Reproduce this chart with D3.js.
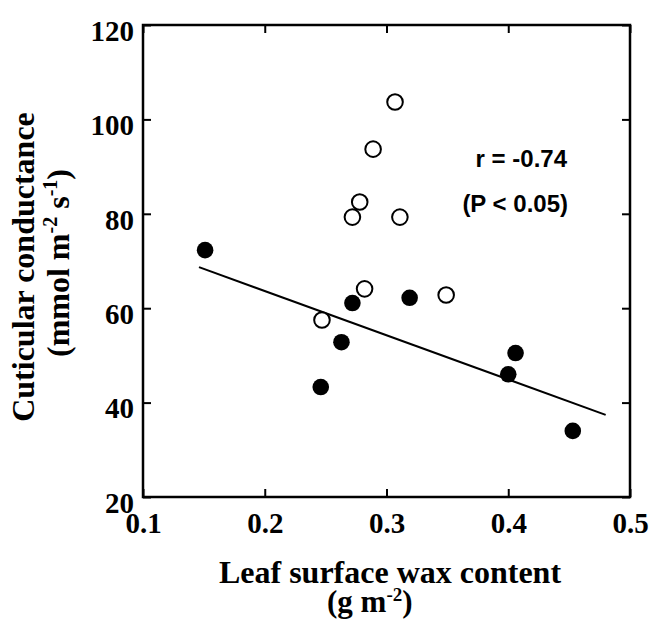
<!DOCTYPE html>
<html>
<head>
<meta charset="utf-8">
<script src="https://cdn.jsdelivr.net/npm/d3@7"></script>
<style>
  body { margin: 0; background: #fff; }
  svg { display: block; }
  .serif { font-family: "Liberation Serif", "Times New Roman", serif; font-weight: bold; }
  .sans { font-family: "Liberation Sans", Arial, sans-serif; font-weight: bold; }
</style>
</head>
<body>
<div id="chart"></div>
<script>
// closed circles
var closedX = [0.151, 0.246, 0.263, 0.272, 0.319, 0.406, 0.400, 0.453];
var closedY = [72.3, 43.3, 52.8, 61.1, 62.2, 50.5, 46.0, 34.0];
// open circles
var openX = [0.307, 0.289, 0.278, 0.272, 0.311, 0.282, 0.349, 0.247];
var openY = [103.7, 93.7, 82.5, 79.3, 79.3, 64.1, 62.8, 57.5];
// regression line ends
var lineX = [0.146, 0.48];
var lineY = [68.7, 37.4];
var xTicks = [0.1, 0.2, 0.3, 0.4, 0.5];
var yTicks = [20, 40, 60, 80, 100, 120];

var width = 651, height = 619;
var plotL = 143, plotR = 630, plotT = 25, plotB = 497;

var svg = d3.select("#chart").append("svg")
  .attr("width", width)
  .attr("height", height);

var x = d3.scaleLinear().domain([0.1, 0.5]).range([plotL, plotR]);
var y = d3.scaleLinear().domain([20, 120]).range([plotB, plotT]);

// axes, ticks pointing inward
var xAxis = svg.append("g")
  .attr("transform", "translate(0," + plotB + ")")
  .call(d3.axisBottom(x).tickValues(xTicks).tickFormat(d3.format(".1f"))
    .tickSizeInner(-8).tickSizeOuter(0));
xAxis.selectAll("text")
  .attr("class", "serif")
  .attr("y", 36).attr("dy", 0)
  .style("font-size", "29px");

var yAxis = svg.append("g")
  .attr("transform", "translate(" + plotL + ",0)")
  .call(d3.axisLeft(y).tickValues(yTicks).tickSizeInner(-8).tickSizeOuter(0));
yAxis.selectAll("text")
  .attr("class", "serif")
  .attr("x", -9).attr("dy", "0.53em")
  .style("font-size", "29px");

svg.append("g")
  .attr("transform", "translate(0," + plotT + ")")
  .call(d3.axisTop(x).tickValues(xTicks).tickFormat("").tickSizeInner(-8).tickSizeOuter(0));

svg.append("g")
  .attr("transform", "translate(" + plotR + ",0)")
  .call(d3.axisRight(y).tickValues(yTicks).tickFormat("").tickSizeInner(-8).tickSizeOuter(0));

svg.selectAll(".domain").remove();
svg.selectAll(".tick line").attr("stroke", "#000").attr("stroke-width", 2);
svg.selectAll(".tick text").attr("fill", "#000");

// frame
svg.append("rect")
  .attr("x", plotL).attr("y", plotT)
  .attr("width", plotR - plotL).attr("height", plotB - plotT)
  .attr("fill", "none").attr("stroke", "#000").attr("stroke-width", 2.5);

// regression line
svg.append("line")
  .attr("x1", x(lineX[0])).attr("y1", y(lineY[0]))
  .attr("x2", x(lineX[1])).attr("y2", y(lineY[1]))
  .attr("stroke", "#000").attr("stroke-width", 2);

// points
var closedPts = closedX.map(function (d, i) { return [d, closedY[i]]; });
var openPts = openX.map(function (d, i) { return [d, openY[i]]; });

svg.append("g").selectAll("circle")
  .data(closedPts).enter().append("circle")
  .attr("cx", function (d) { return x(d[0]); })
  .attr("cy", function (d) { return y(d[1]); })
  .attr("r", 8.3)
  .attr("fill", "#000");

svg.append("g").selectAll("circle")
  .data(openPts).enter().append("circle")
  .attr("cx", function (d) { return x(d[0]); })
  .attr("cy", function (d) { return y(d[1]); })
  .attr("r", 7.8)
  .attr("fill", "#fff")
  .attr("stroke", "#000").attr("stroke-width", 2);

// stats text
svg.append("text").attr("class", "sans")
  .attr("x", 567).attr("y", 167)
  .attr("text-anchor", "end")
  .style("font-size", "24px")
  .text("r = -0.74");
svg.append("text").attr("class", "sans")
  .attr("x", 568).attr("y", 212)
  .attr("text-anchor", "end")
  .style("font-size", "24px")
  .text("(P < 0.05)");

// x title
svg.append("text").attr("class", "serif")
  .attr("x", 390).attr("y", 583)
  .attr("text-anchor", "middle")
  .style("font-size", "32px")
  .text("Leaf surface wax content");
var xt2 = svg.append("text").attr("class", "serif")
  .attr("x", 327).attr("y", 612)
  .style("font-size", "31px");
xt2.append("tspan").text("(g m");
xt2.append("tspan").attr("dy", -11).style("font-size", "19px").text("-2");
xt2.append("tspan").attr("dy", 11).text(")");

// y title
svg.append("text").attr("class", "serif")
  .attr("transform", "translate(34,267) rotate(-90)")
  .attr("text-anchor", "middle")
  .style("font-size", "32px")
  .text("Cuticular conductance");
var yt2 = svg.append("text").attr("class", "serif")
  .attr("transform", "translate(69,263) rotate(-90)")
  .attr("text-anchor", "middle")
  .style("font-size", "32px");
yt2.append("tspan").text("(mmol m");
yt2.append("tspan").attr("dy", -12).style("font-size", "20px").text("-2");
yt2.append("tspan").attr("dy", 12).text(" s");
yt2.append("tspan").attr("dy", -12).style("font-size", "20px").text("-1");
yt2.append("tspan").attr("dy", 12).text(")");
</script>
</body>
</html>
